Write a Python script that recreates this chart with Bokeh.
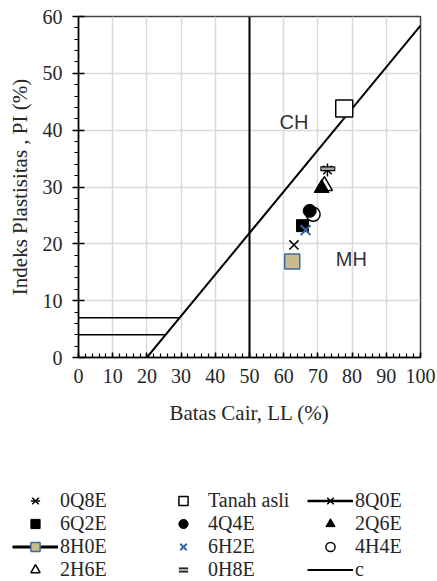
import math
from bokeh.plotting import figure
from bokeh.models import Range1d, SingleIntervalTicker, Legend, LegendItem
from bokeh.core.properties import value
from bokeh.embed import file_html
from bokeh.resources import INLINE

# ---- data ----
ll_tanah, pi_tanah = [77.7], [43.8]
ll_0q8e, pi_0q8e = [72.8], [33.0]
ll_0h8e, pi_0h8e = [72.9], [33.2]
ll_2q6e, pi_2q6e = [71.1], [29.8]
ll_2h6e, pi_2h6e = [71.9], [30.2]
ll_4q4e, pi_4q4e = [67.6], [25.8]
ll_4h4e, pi_4h4e = [68.6], [25.2]
ll_6q2e, pi_6q2e = [65.5], [23.2]
ll_6h2e, pi_6h2e = [66.4], [22.4]
ll_8q0e, pi_8q0e = [63.0], [19.8]
ll_8h0e, pi_8h0e = [62.5], [16.9]

aline_ll = [20, 100]
aline_pi = [0, 58.4]
vline_ll = [50, 50]
vline_pi = [0, 60]
h7_ll, h7_pi = [0, 29.6], [7, 7]
h4_ll, h4_pi = [0, 25.5], [4, 4]

zone_text = ["CH", "MH"]
zone_ll = [63.0, 79.8]
zone_pi = [41.4, 17.4]

legend_cols = [
    ["0Q8E", "6Q2E", "8H0E", "2H6E"],
    ["Tanah asli", "4Q4E", "6H2E", "0H8E"],
    ["8Q0E", "2Q6E", "4H4E", "c"],
]

SERIF = "Liberation Serif"
TXT = "#262626"

p = figure(width=437, height=435, x_range=Range1d(0, 100), y_range=Range1d(0, 60),
           output_backend="svg", toolbar_location=None,
           min_border_left=78, min_border_right=17, min_border_top=16, min_border_bottom=78)
p.background_fill_color = "white"
p.border_fill_color = "white"
p.outline_line_color = "#404040"
p.outline_line_width = 1.5

p.xaxis.ticker = SingleIntervalTicker(interval=10, num_minor_ticks=5)
p.yaxis.ticker = SingleIntervalTicker(interval=10, num_minor_ticks=5)
p.xgrid.grid_line_color = "#d9d9d9"
p.ygrid.grid_line_color = "#d9d9d9"
p.xgrid.grid_line_width = 1.5
p.ygrid.grid_line_width = 1.5

for ax in (p.xaxis, p.yaxis):
    ax.axis_line_color = "black"
    ax.axis_line_width = 1.5
    ax.major_tick_line_color = "black"
    ax.minor_tick_line_color = "black"
    ax.major_tick_line_width = 1.5
    ax.minor_tick_line_width = 1.2
    ax.major_label_text_font = SERIF
    ax.major_label_text_font_size = "20px"
    ax.major_label_text_color = TXT
    ax.axis_label_text_font = SERIF
    ax.axis_label_text_font_size = "21px"
    ax.axis_label_text_font_style = "normal"
    ax.axis_label_text_color = TXT

p.xaxis.axis_label = "Batas Cair, LL (%)"
p.yaxis.axis_label = "Indeks Plastisitas , PI (%)"
p.xaxis.major_tick_in = 5
p.xaxis.major_tick_out = 0
p.xaxis.minor_tick_in = 4
p.xaxis.minor_tick_out = 0
p.xaxis.major_label_standoff = 11
p.xaxis.axis_label_standoff = 15
p.yaxis.major_tick_in = 6
p.yaxis.major_tick_out = 6
p.yaxis.minor_tick_in = 0
p.yaxis.minor_tick_out = 4
p.yaxis.major_label_standoff = 10
p.yaxis.axis_label_standoff = 8

# lines
p.line(aline_ll, aline_pi, line_color="black", line_width=2)
p.line(vline_ll, vline_pi, line_color="black", line_width=2)
p.line(h7_ll, h7_pi, line_color="black", line_width=1.5)
p.line(h4_ll, h4_pi, line_color="black", line_width=1.5)

p.text(x=zone_ll, y=zone_pi, text=zone_text, text_align="center", text_baseline="middle",
       text_font=value("Liberation Sans"), text_font_size="20px", text_color="#333333")

# styles for each series (used in plot and in legend)
S = {
    "Tanah asli": [dict(marker="square", size=17, fill_color="white", line_color="black", line_width=1.5)],
    "8H0E": [dict(marker="square", size=15, fill_color="#c8bc8e", line_color="#3f6aa0", line_width=1.5)],
    "8Q0E": [dict(marker="x", size=13, line_color="black", line_width=1.5)],
    "6Q2E": [dict(marker="square", size=12, fill_color="black", line_color="black")],
    "6H2E": [dict(marker="x", size=14, line_color="#3a64a0", line_width=2)],
    "4H4E": [dict(marker="circle", size=14, fill_color="white", line_color="black", line_width=1.5)],
    "4Q4E": [dict(marker="circle", size=13, fill_color="black", line_color="black")],
    "2H6E": [dict(marker="triangle", size=16, fill_color="white", line_color="black", line_width=1.5)],
    "2Q6E": [dict(marker="triangle", size=15, fill_color="black", line_color="black")],
    "0Q8E": [dict(marker="x", size=12, line_color="black", line_width=1.5),
             dict(marker="dash", size=13, angle=math.pi / 2, line_color="black", line_width=1.5)],
    "0H8E": [dict(marker="dash", size=15, line_color="black", line_width=5),
             dict(marker="dash", size=13, line_color="#a6a6a6", line_width=2.5)],
}
pts = {
    "Tanah asli": (ll_tanah, pi_tanah), "8H0E": (ll_8h0e, pi_8h0e), "8Q0E": (ll_8q0e, pi_8q0e),
    "6Q2E": (ll_6q2e, pi_6q2e), "6H2E": (ll_6h2e, pi_6h2e), "4H4E": (ll_4h4e, pi_4h4e),
    "4Q4E": (ll_4q4e, pi_4q4e), "2H6E": (ll_2h6e, pi_2h6e), "2Q6E": (ll_2q6e, pi_2q6e),
    "0Q8E": (ll_0q8e, pi_0q8e), "0H8E": (ll_0h8e, pi_0h8e),
}
for name, (xs, ys) in pts.items():
    for st in S[name]:
        p.scatter(xs, ys, **st)

# ---- legend panel (separate root, so its frame spans the full width) ----
p2 = figure(width=437, height=146, x_range=Range1d(0, 1), y_range=Range1d(0, 1),
            output_backend="svg", toolbar_location=None, x_axis_type=None, y_axis_type=None,
            min_border_left=0, min_border_right=0, min_border_top=0, min_border_bottom=0)
p2.outline_line_color = None
p2.xgrid.visible = False
p2.ygrid.visible = False

nan = [math.nan]
line_legend = {"8H0E": 3, "8Q0E": 2.5, "c": 2}
col_x = [12, 160, 307]
for cx, labels in zip(col_x, legend_cols):
    items = []
    for lab in labels:
        rs = []
        if lab in line_legend:
            rs.append(p2.line(nan, nan, line_color="black", line_width=line_legend[lab]))
        for st in S.get(lab, []):
            rs.append(p2.scatter(nan, nan, **st))
        items.append(LegendItem(label=lab, renderers=rs))
    lg = Legend(items=items, location=(cx, 0), orientation="vertical", padding=0, margin=0,
                spacing=0, border_line_alpha=0, background_fill_alpha=0,
                label_text_font=SERIF, label_text_font_size="20px", label_text_color=TXT,
                glyph_width=46, glyph_height=23, label_height=23, label_standoff=2)
    p2.add_layout(lg, "center")

open("out.html", "w").write(file_html((p, p2), INLINE))
